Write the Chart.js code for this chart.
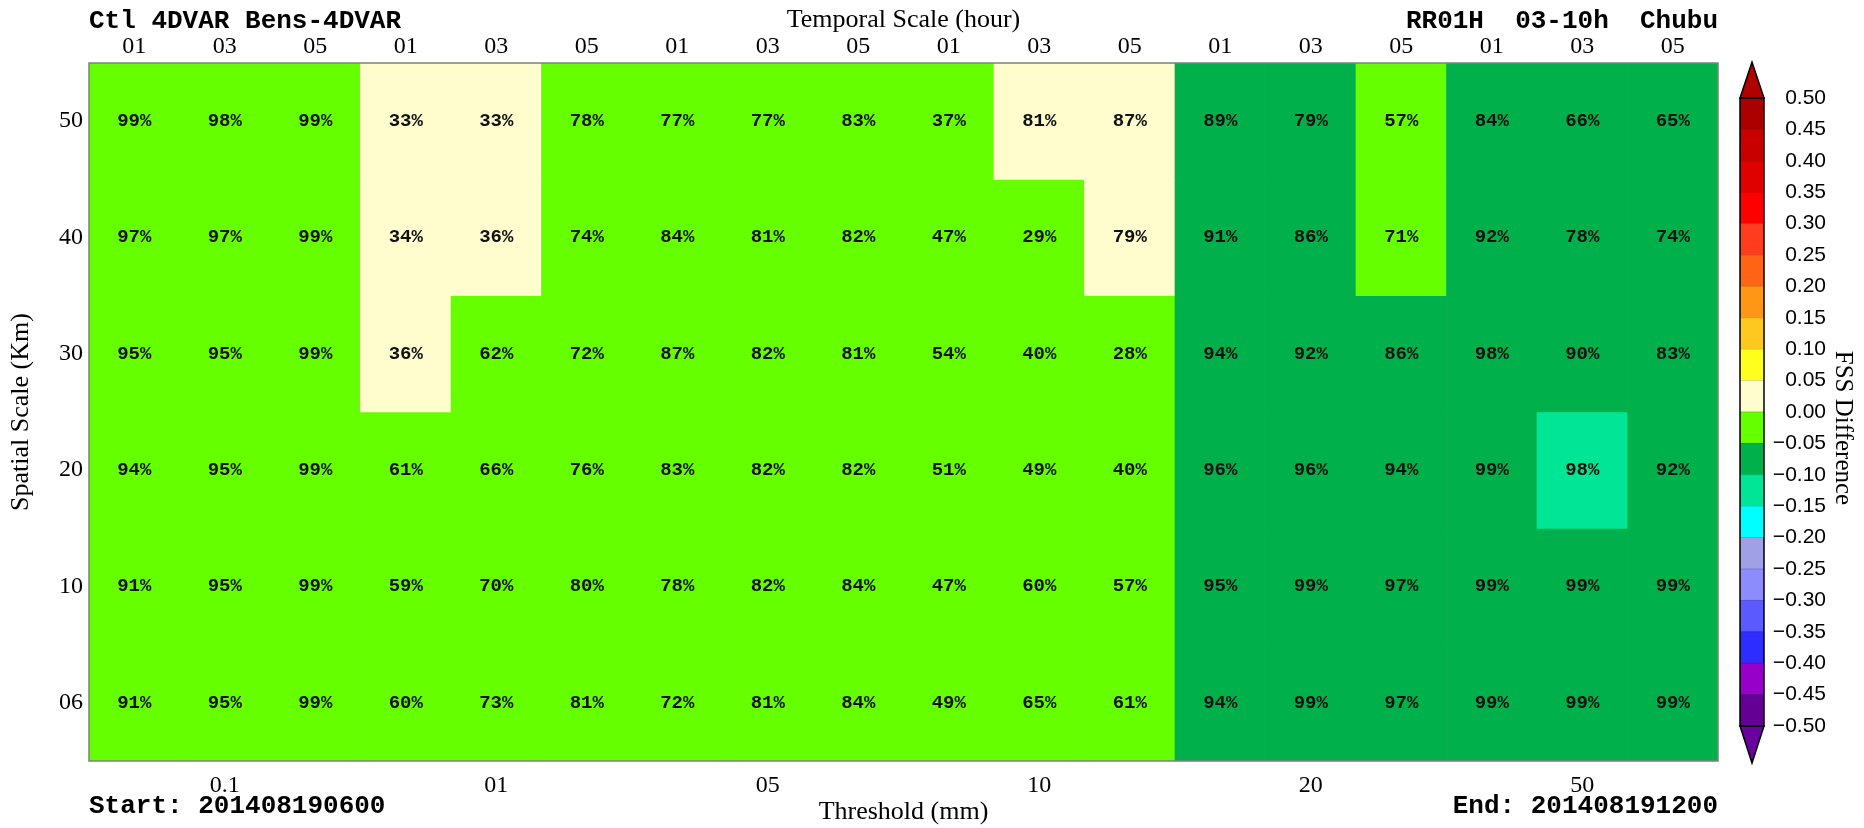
<!DOCTYPE html>
<html>
<head>
<meta charset="utf-8">
<title>FSS Difference</title>
<script src="https://cdn.jsdelivr.net/npm/chart.js@4.4.1/dist/chart.umd.min.js"></script>
<style>
    html, body { margin: 0; padding: 0; background: #fff; overflow: hidden; }
    #wrap { position: relative; width: 1864px; height: 828px; }
    #fss { position: absolute; left: 0; top: 0; }
    #bar { position: absolute; left: 1700px; top: 0; }
</style>
</head>
<body>
<div id="wrap">
    <canvas id="fss" width="1864" height="828"></canvas>
    <canvas id="bar" width="164" height="828"></canvas>
</div>
<script>
// thresholds (bottom axis) and temporal scales (top axis)
const thresholds = ["0.1", "01", "05", "10", "20", "50"];
const temporalScales = ["01", "03", "05"];
// spatial scales, top row first
const spatialScales = ["50", "40", "30", "20", "10", "06"];

// FSS percentage printed in each cell, top row first
const pct50 = [99, 98, 99, 33, 33, 78, 77, 77, 83, 37, 81, 87, 89, 79, 57, 84, 66, 65];
const pct40 = [97, 97, 99, 34, 36, 74, 84, 81, 82, 47, 29, 79, 91, 86, 71, 92, 78, 74];
const pct30 = [95, 95, 99, 36, 62, 72, 87, 82, 81, 54, 40, 28, 94, 92, 86, 98, 90, 83];
const pct20 = [94, 95, 99, 61, 66, 76, 83, 82, 82, 51, 49, 40, 96, 96, 94, 99, 98, 92];
const pct10 = [91, 95, 99, 59, 70, 80, 78, 82, 84, 47, 60, 57, 95, 99, 97, 99, 99, 99];
const pct06 = [91, 95, 99, 60, 73, 81, 72, 81, 84, 49, 65, 61, 94, 99, 97, 99, 99, 99];

// FSS difference (estimated from the shading), top row first
const diff50 = [-0.02, -0.02, -0.02, 0.02, 0.02, -0.02, -0.02, -0.02, -0.02, -0.02, 0.02, 0.02, -0.07, -0.07, -0.02, -0.07, -0.07, -0.07];
const diff40 = [-0.02, -0.02, -0.02, 0.02, 0.02, -0.02, -0.02, -0.02, -0.02, -0.02, -0.02, 0.02, -0.07, -0.07, -0.02, -0.07, -0.07, -0.07];
const diff30 = [-0.02, -0.02, -0.02, 0.02, -0.02, -0.02, -0.02, -0.02, -0.02, -0.02, -0.02, -0.02, -0.07, -0.07, -0.07, -0.07, -0.07, -0.07];
const diff20 = [-0.02, -0.02, -0.02, -0.02, -0.02, -0.02, -0.02, -0.02, -0.02, -0.02, -0.02, -0.02, -0.07, -0.07, -0.07, -0.07, -0.12, -0.07];
const diff10 = [-0.02, -0.02, -0.02, -0.02, -0.02, -0.02, -0.02, -0.02, -0.02, -0.02, -0.02, -0.02, -0.07, -0.07, -0.07, -0.07, -0.07, -0.07];
const diff06 = [-0.02, -0.02, -0.02, -0.02, -0.02, -0.02, -0.02, -0.02, -0.02, -0.02, -0.02, -0.02, -0.07, -0.07, -0.07, -0.07, -0.07, -0.07];

const pctRows = [pct50, pct40, pct30, pct20, pct10, pct06];
const diffRows = [diff50, diff40, diff30, diff20, diff10, diff06];

// colour bar levels, lowest first
const levels = [-0.50, -0.45, -0.40, -0.35, -0.30, -0.25, -0.20, -0.15, -0.10, -0.05, 0.00,
                0.05, 0.10, 0.15, 0.20, 0.25, 0.30, 0.35, 0.40, 0.45, 0.50];
const levelColors = ["#640096", "#9600c8", "#2d2dff", "#5a5aff", "#8c8cff", "#a0a0e6", "#00ffff", "#00e696", "#00b04a", "#66ff00",
                     "#fffccd", "#ffff1e", "#ffc81e", "#ff9614", "#ff6414", "#ff3c1e", "#ff0000", "#e00000", "#c80000", "#aa0000"];
const underColor = "#6a00a0";
const overColor = "#b00000";

const headerLeft = "Ctl 4DVAR Bens-4DVAR";
const headerRight = "RR01H  03-10h  Chubu";
const startText = "Start: 201408190600";
const endText = "End: 201408191200";

const SERIF = "'Liberation Serif', 'Times New Roman', serif";
const MONO = "'Liberation Mono', 'Courier New', monospace";
const SANS = "'Liberation Sans', Arial, sans-serif";

function colorFor(v) {
    for (let k = 0; k < levelColors.length; k++) {
        if (v >= levels[k] && v < levels[k + 1]) return levelColors[k];
    }
    return v < levels[0] ? underColor : overColor;
}

const columns = thresholds.flatMap(t => temporalScales.map(s => t + "/" + s));
const topLabels = thresholds.flatMap(() => temporalScales);
const nRows = spatialScales.length;

const datasets = spatialScales.map((s, i) => ({
    label: s,
    data: columns.map(() => [nRows - 1 - i, nRows - i]),
    backgroundColor: diffRows[i].map(colorFor),
    pct: pctRows[i],
    borderWidth: 0,
    grouped: false,
    barPercentage: 1,
    categoryPercentage: 1
}));

// cell text, frame and the loose texts round the plot
const fssText = {
    id: "fssText",
    afterDatasetsDraw(chart) {
        const ctx = chart.ctx;
        const a = chart.chartArea;
        ctx.save();
        ctx.font = "bold 19px " + MONO;
        ctx.fillStyle = "#111";
        ctx.textAlign = "center";
        ctx.textBaseline = "middle";
        chart.data.datasets.forEach((ds, i) => {
            chart.getDatasetMeta(i).data.forEach((el, j) => {
                ctx.fillText(ds.pct[j] + "%", el.x, (el.y + el.base) / 2);
            });
        });
        ctx.strokeStyle = "#808080";
        ctx.lineWidth = 1.5;
        ctx.strokeRect(a.left, a.top, a.right - a.left, a.bottom - a.top);

        ctx.fillStyle = "#000";
        ctx.font = "bold 26px " + MONO;
        ctx.textBaseline = "alphabetic";
        ctx.textAlign = "left";
        ctx.fillText(headerLeft, a.left, 28);
        ctx.fillText(startText, a.left, 813);
        ctx.textAlign = "right";
        ctx.fillText(headerRight, a.right, 28);
        ctx.fillText(endText, a.right, 813);
        ctx.restore();
    }
};

new Chart(document.getElementById("fss"), {
    type: "bar",
    data: { labels: columns, datasets: datasets },
    options: {
        responsive: false,
        animation: false,
        layout: { padding: { left: 0, right: 146, top: 0, bottom: 0 } },
        plugins: { legend: { display: false }, tooltip: { enabled: false } },
        scales: {
            x: {
                type: "category",
                position: "bottom",
                offset: true,
                grid: { display: false, drawTicks: false },
                border: { display: false },
                ticks: {
                    autoSkip: false,
                    maxRotation: 0,
                    padding: 10,
                    color: "#000",
                    font: { family: SERIF, size: 24 },
                    callback: (v, i) => (i % 3 === 1 ? thresholds[(i - 1) / 3] : "")
                },
                title: {
                    display: true,
                    text: "Threshold (mm)",
                    color: "#000",
                    font: { family: SERIF, size: 26 },
                    padding: { top: 0, bottom: 0 }
                },
                afterFit: (scale) => { scale.height = 67; }
            },
            x2: {
                type: "category",
                position: "top",
                labels: topLabels,
                offset: true,
                grid: { display: false, drawTicks: false },
                border: { display: false },
                ticks: {
                    autoSkip: false,
                    maxRotation: 0,
                    padding: 2,
                    color: "#000",
                    font: { family: SERIF, size: 24 }
                },
                title: {
                    display: true,
                    text: "Temporal Scale (hour)",
                    color: "#000",
                    font: { family: SERIF, size: 26 },
                    padding: { top: 5, bottom: 0 }
                },
                afterFit: (scale) => { scale.height = 63; }
            },
            y: {
                type: "linear",
                min: 0,
                max: nRows,
                grid: { display: false, drawTicks: false },
                border: { display: false },
                afterBuildTicks: (scale) => {
                    scale.ticks = spatialScales.map((s, i) => ({ value: nRows - i - 0.5 }));
                },
                ticks: {
                    padding: 6,
                    color: "#000",
                    font: { family: SERIF, size: 24 },
                    callback: (v) => spatialScales[nRows - 1 - Math.floor(v)]
                },
                title: {
                    display: true,
                    text: "Spatial Scale (Km)",
                    color: "#000",
                    font: { family: SERIF, size: 26 },
                    padding: { top: 6, bottom: 0 }
                },
                afterFit: (scale) => { scale.width = 89; }
            }
        }
    },
    plugins: [fssText]
});

// colour bar
const barSets = levelColors.map((c, k) => ({
    data: [[levels[k], levels[k + 1]]],
    backgroundColor: c,
    borderWidth: 0,
    grouped: false,
    barPercentage: 1,
    categoryPercentage: 1
}));

const barFrame = {
    id: "barFrame",
    afterDatasetsDraw(chart) {
        const ctx = chart.ctx;
        const a = chart.chartArea;
        const y = chart.scales.y;
        const top = y.getPixelForValue(levels[levels.length - 1]);
        const bottom = y.getPixelForValue(levels[0]);
        const mid = (a.left + a.right) / 2;
        ctx.save();
        ctx.strokeStyle = "#000";
        ctx.lineWidth = 1.5;
        ctx.lineJoin = "miter";
        ctx.beginPath();
        ctx.moveTo(a.left, top);
        ctx.lineTo(mid, top - 36);
        ctx.lineTo(a.right, top);
        ctx.closePath();
        ctx.fillStyle = overColor;
        ctx.fill();
        ctx.stroke();
        ctx.beginPath();
        ctx.moveTo(a.left, bottom);
        ctx.lineTo(mid, bottom + 37);
        ctx.lineTo(a.right, bottom);
        ctx.closePath();
        ctx.fillStyle = underColor;
        ctx.fill();
        ctx.stroke();
        ctx.lineWidth = 0.6;
        ctx.strokeStyle = "rgba(0,0,0,0.25)";
        for (let k = 1; k < levels.length - 1; k++) {
            const py = y.getPixelForValue(levels[k]);
            ctx.beginPath();
            ctx.moveTo(a.left, py);
            ctx.lineTo(a.right, py);
            ctx.stroke();
        }
        ctx.lineWidth = 1.5;
        ctx.strokeStyle = "#000";
        ctx.strokeRect(a.left, top, a.right - a.left, bottom - top);

        // colour bar title, read top to bottom
        ctx.translate(1843 - 1700, 428);
        ctx.rotate(Math.PI / 2);
        ctx.fillStyle = "#000";
        ctx.font = "25px " + SERIF;
        ctx.textAlign = "center";
        ctx.textBaseline = "middle";
        ctx.fillText("FSS Difference", 0, 0);
        ctx.restore();
    }
};

new Chart(document.getElementById("bar"), {
    type: "bar",
    data: { labels: ["FSS"], datasets: barSets },
    options: {
        responsive: false,
        animation: false,
        layout: { padding: { left: 40, right: 38, top: 98, bottom: 102 } },
        plugins: { legend: { display: false }, tooltip: { enabled: false } },
        scales: {
            x: { display: false },
            y: {
                type: "linear",
                position: "right",
                min: -0.5,
                max: 0.5,
                grid: { display: false, drawTicks: false },
                border: { display: false },
                ticks: {
                    stepSize: 0.05,
                    padding: 9,
                    crossAlign: "far",
                    color: "#000",
                    font: { family: SANS, size: 21 },
                    callback: (v) => (Math.abs(v) < 1e-9 ? "0.00" : (v < 0 ? "\u2212" : "") + Math.abs(v).toFixed(2))
                },
                afterFit: (scale) => { scale.width = 62; }
            }
        }
    },
    plugins: [barFrame]
});
</script>
</body>
</html>
